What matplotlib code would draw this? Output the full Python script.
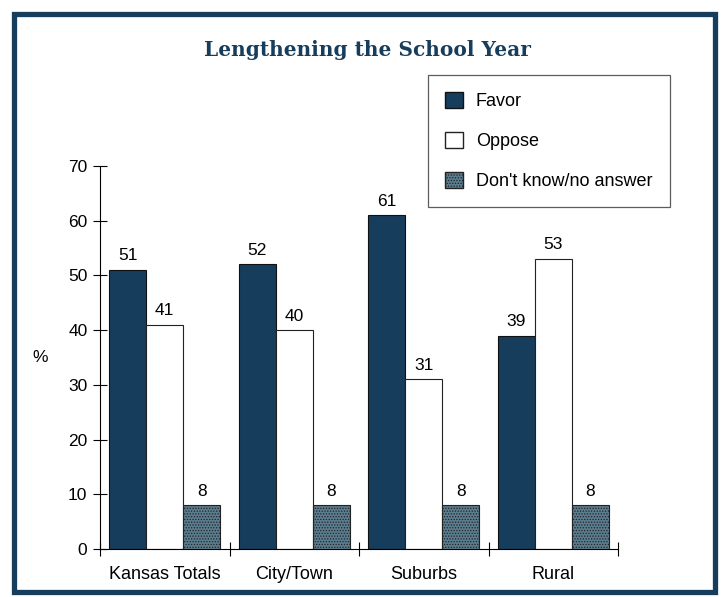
import matplotlib.pyplot as plt
import matplotlib.patches as mpatches
import numpy as np

categories = ["Kansas Totals", "City/Town", "Suburbs", "Rural"]
favor = [51, 52, 61, 39]
oppose = [41, 40, 31, 53]
dont_know = [8, 8, 8, 8]
series_names = ["Favor", "Oppose", "Don't know/no answer"]

navy = "#173d5c"
dk_color = "#5b7d90"
plt.rcParams["font.family"] = ["Liberation Sans", "DejaVu Sans"]
plt.rcParams["hatch.color"] = navy
plt.rcParams["hatch.linewidth"] = 0.6

fig = plt.figure(figsize=(7.22, 5.97), dpi=100)
ax = fig.add_axes([0.1385, 0.0804, 0.7175, 0.6416])

x = np.arange(len(categories))
w = 0.286
b1 = ax.bar(x - w, favor, w, color=navy, edgecolor="#111111", linewidth=0.8)
b2 = ax.bar(x, oppose, w, color="white", edgecolor="#222222", linewidth=0.8)
b3 = ax.bar(x + w, dont_know, w, color=dk_color, edgecolor="#222222",
            linewidth=0.8, hatch="......")

for bars in (b1, b2, b3):
    for r in bars:
        ax.text(r.get_x() + r.get_width() / 2, r.get_height() + 1.2,
                f"{int(r.get_height())}", ha="center", va="bottom", fontsize=12.5)

ax.set_xlim(-0.5, 3.5)
ax.set_ylim(0, 70)
ax.set_yticks(range(0, 71, 10))
ax.set_xticks(np.arange(-0.5, 3.6, 1))
ax.set_xticklabels([])
ax.set_xticks(x, minor=True)
ax.set_xticklabels(categories, minor=True, fontsize=13)
ax.tick_params(axis="x", which="minor", length=0, pad=12)
ax.tick_params(axis="both", which="major", direction="inout", length=10,
               width=0.8, labelsize=12.5)
ax.tick_params(axis="y", pad=4)
for s in ("top", "right"):
    ax.spines[s].set_visible(False)
for s in ("left", "bottom"):
    ax.spines[s].set_linewidth(0.8)

fig.text(40 / 722, 1 - 357 / 597, "%", ha="center", va="center", fontsize=12.5)
fig.text(367 / 722, 1 - 50 / 597, "Lengthening the School Year",
         ha="center", va="center", fontsize=14.5, fontweight="heavy",
         family="DejaVu Serif", color=navy)

handles = [mpatches.Patch(facecolor=navy, edgecolor="#111111"),
           mpatches.Patch(facecolor="white", edgecolor="#222222"),
           mpatches.Patch(facecolor=dk_color, edgecolor="#222222", hatch="......")]
leg = fig.legend(handles, series_names, loc="upper left",
                 bbox_to_anchor=(428 / 722, 1 - 75 / 597), fontsize=13,
                 frameon=True, fancybox=False, edgecolor="#333333",
                 handlelength=1.0, handleheight=1.0, labelspacing=1.2,
                 borderpad=0.95, handletextpad=0.7, borderaxespad=0)
leg.get_frame().set_linewidth(0.9)

border = mpatches.Rectangle((14 / 722, 5 / 597), 701 / 722, 578 / 597,
                            transform=fig.transFigure, fill=False,
                            edgecolor=navy, linewidth=3.8)
fig.patches.append(border)

fig.savefig("out.png", dpi=100)
